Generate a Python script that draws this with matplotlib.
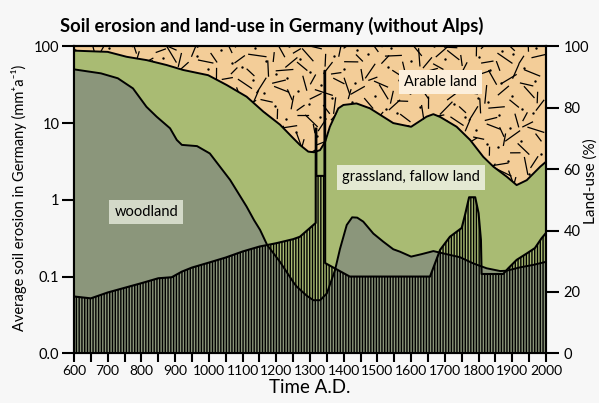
import numpy as np
import matplotlib
matplotlib.use("Agg")
import matplotlib.pyplot as plt
from matplotlib.collections import LineCollection
from matplotlib.ticker import NullLocator

plt.rcParams['font.family'] = ['Lato', 'DejaVu Sans']
plt.rcParams['hatch.color'] = 'black'
plt.rcParams['hatch.linewidth'] = 1.0

# land-use (%)
wood_years = [600, 680, 730, 775, 815, 845, 885, 905, 920, 965, 1003, 1063, 1112, 1134,
              1152, 1173, 1211, 1253, 1261, 1290, 1310, 1330, 1350, 1374, 1389, 1409,
              1425, 1440, 1458, 1488, 1517, 1547, 1567, 1600, 1631, 1666, 1705, 1745,
              1784, 1824, 1864, 1883, 1923, 1962, 2000]
wood_pct = [92.5, 91.2, 89.6, 86.3, 80.3, 77.1, 73.3, 69.5, 67.9, 67.5, 65.1, 56.5, 47.8, 43.4,
            40.2, 35.3, 29.8, 22.8, 21.7, 18.8, 17.3, 17.3, 19.5, 27.0, 34.0, 41.8,
            44.3, 44.2, 42.9, 39.0, 36.4, 33.9, 33.1, 31.5, 32.3, 33.3, 32.3, 31.3,
            29.3, 27.7, 26.8, 26.9, 28.0, 28.8, 29.8]

grass_years = [600, 700, 756, 816, 875, 924, 998, 1053, 1112, 1162, 1211, 1251, 1270, 1295,
               1312, 1330, 1345, 1359, 1384, 1399, 1438, 1478, 1547, 1600, 1646, 1666,
               1686, 1735, 1775, 1814, 1844, 1884, 1913, 1943, 1983, 2000]
grass_pct = [98.6, 98.2, 96.6, 95.5, 93.9, 92.3, 90.6, 87.4, 83.6, 78.7, 74.5, 70.0, 67.9, 65.7,
             65.5, 66.2, 68.9, 73.8, 79.8, 80.9, 81.4, 79.8, 75.0, 73.8, 77.1, 77.9,
             77.0, 73.8, 69.5, 64.0, 60.8, 57.5, 54.8, 56.4, 60.8, 62.4]

# average soil erosion (mm/a), left log axis
ero_years = [600, 650, 700, 800, 850, 890, 920, 950, 1000, 1050, 1100, 1150, 1200, 1250,
             1270, 1317, 1317, 1319, 1319, 1343, 1343, 1345, 1345, 1418, 1656, 1686,
             1715, 1750, 1760, 1772, 1790, 1800, 1807, 1809, 1873, 1888, 1913, 1943,
             1967, 1987, 2000]
ero_vals = [0.055, 0.052, 0.062, 0.082, 0.095, 0.098, 0.116, 0.131, 0.152, 0.177, 0.212,
            0.246, 0.272, 0.307, 0.33, 0.5, 8.5, 8.5, 2.05, 2.05, 48, 48, 0.15, 0.1, 0.1,
            0.223, 0.33, 0.43, 0.64, 1.08, 1.08, 0.67, 0.3, 0.108, 0.108, 0.128, 0.165,
            0.2, 0.235, 0.316, 0.37]

left_ticks = [0.01, 0.1, 1, 10, 100]
left_labels = ['0.0', '0.1', '1', '10', '100']
right_ticks = [0, 20, 40, 60, 80, 100]

BG = '#f7f7f7'
ARABLE = '#f3cd98'
GRASS = '#a9bb73'
WOOD = '#8b967b'

fig = plt.figure(figsize=(5.99, 4.03), dpi=100, facecolor=BG)
ax = fig.add_axes([0.1235, 0.1233, 0.788, 0.7617])
ax2 = ax.twinx()
ax.set_zorder(2)
ax.patch.set_visible(False)
ax2.set_zorder(1)

# land-use layers
ax2.fill_between(grass_years, grass_pct, 100, color=ARABLE, lw=0, zorder=1)

# dash/dot texture of the arable land (decoration only, axes coords)
segs, dots = [], []
k = 0
for gy in np.arange(0.01, 1.0, 0.038):
    for gx in np.arange(0.005, 1.0, 0.025):
        k += 1
        cx = gx + ((k * 0.618034) % 1 - 0.5) * 0.02
        cy = gy + ((k * 0.414214) % 1 - 0.5) * 0.03
        ang = ((k * 0.7548777) % 1) * np.pi
        ln = 9 + ((k * 0.5698403) % 1) * 10
        dx = ln / 472 * np.cos(ang) / 2
        dy = ln / 307 * np.sin(ang) / 2
        if k % 3 == 0:
            dots.append((cx, cy))
        else:
            segs.append([(cx - dx, cy - dy), (cx + dx, cy + dy)])
ax2.add_collection(LineCollection(segs, colors='black', linewidths=0.9,
                                  transform=ax2.transAxes, zorder=1.5))
dots = np.array(dots)
ax2.scatter(dots[:, 0], dots[:, 1], s=3, color='black', lw=0,
            transform=ax2.transAxes, zorder=1.5)

ax2.fill_between(grass_years, 0, grass_pct, color=GRASS, lw=0, zorder=2)
ax2.fill_between(wood_years, 0, wood_pct, color=WOOD, lw=0, zorder=3)

# erosion hatch on the log axis
ax.fill_between(ero_years, 0.01, ero_vals, facecolor='none', edgecolor='black',
                hatch='||||||', lw=0, zorder=3)
ax.plot(ero_years, ero_vals, color='black', lw=1.5, zorder=5)
ax.plot(wood_years, wood_pct, color='black', lw=1.4, zorder=4, transform=ax2.transData)
ax.plot(grass_years, grass_pct, color='black', lw=1.4, zorder=4, transform=ax2.transData)

# labels in the areas
box = dict(boxstyle='square,pad=0.35', lw=0)
ax2.text(815, 46.1, 'woodland', ha='center', va='center', fontsize=10.5, zorder=6,
         bbox=dict(box, facecolor='#d3d9c8'))
ax2.text(1599, 57.3, 'grassland, fallow land', ha='center', va='center', fontsize=10.5,
         zorder=6, bbox=dict(box, facecolor='#e4e9d2'))
ax2.text(1688, 88.4, 'Arable land', ha='center', va='center', fontsize=10.5, zorder=6,
         bbox=dict(box, facecolor='#fcefdc'))

# axes
ax.set_yscale('log')
ax.set_xlim(600, 2000)
ax.set_ylim(0.01, 100)
ax.set_yticks(left_ticks)
ax.set_yticklabels(left_labels)
ax.yaxis.set_minor_locator(NullLocator())
ax.set_xticks(range(600, 2001, 100))
ax.set_xticks(range(650, 2000, 100), minor=True)
ax2.set_ylim(0, 100)
ax2.set_yticks(right_ticks)

for a in (ax, ax2):
    for s in a.spines.values():
        s.set_linewidth(1.5)
ax.tick_params(axis='y', which='both', length=8.5, width=1.5, labelsize=10.5, pad=2)
ax.tick_params(axis='x', which='both', length=6.5, width=1.5, labelsize=10, pad=2)
ax2.tick_params(axis='y', length=9.5, width=1.5, labelsize=10.5, pad=3)

fig.text(19 / 599, 1 - 198 / 403, 'Average soil erosion in Germany (mm\u207aa\u207b\u00b9)',
         rotation=90, ha='center', va='center', fontsize=10.5)
fig.text(591 / 599, 1 - 181.5 / 403, 'Land-use (%)', rotation=90,
         ha='center', va='center', fontsize=11)
ax.set_xlabel('Time A.D.', fontsize=13.5, labelpad=1)
fig.text(0.453, 0.935, 'Soil erosion and land-use in Germany (without Alps)',
         ha='center', va='center', fontsize=13.2, fontweight='bold')

fig.savefig('out.png', dpi=100, facecolor=BG)
